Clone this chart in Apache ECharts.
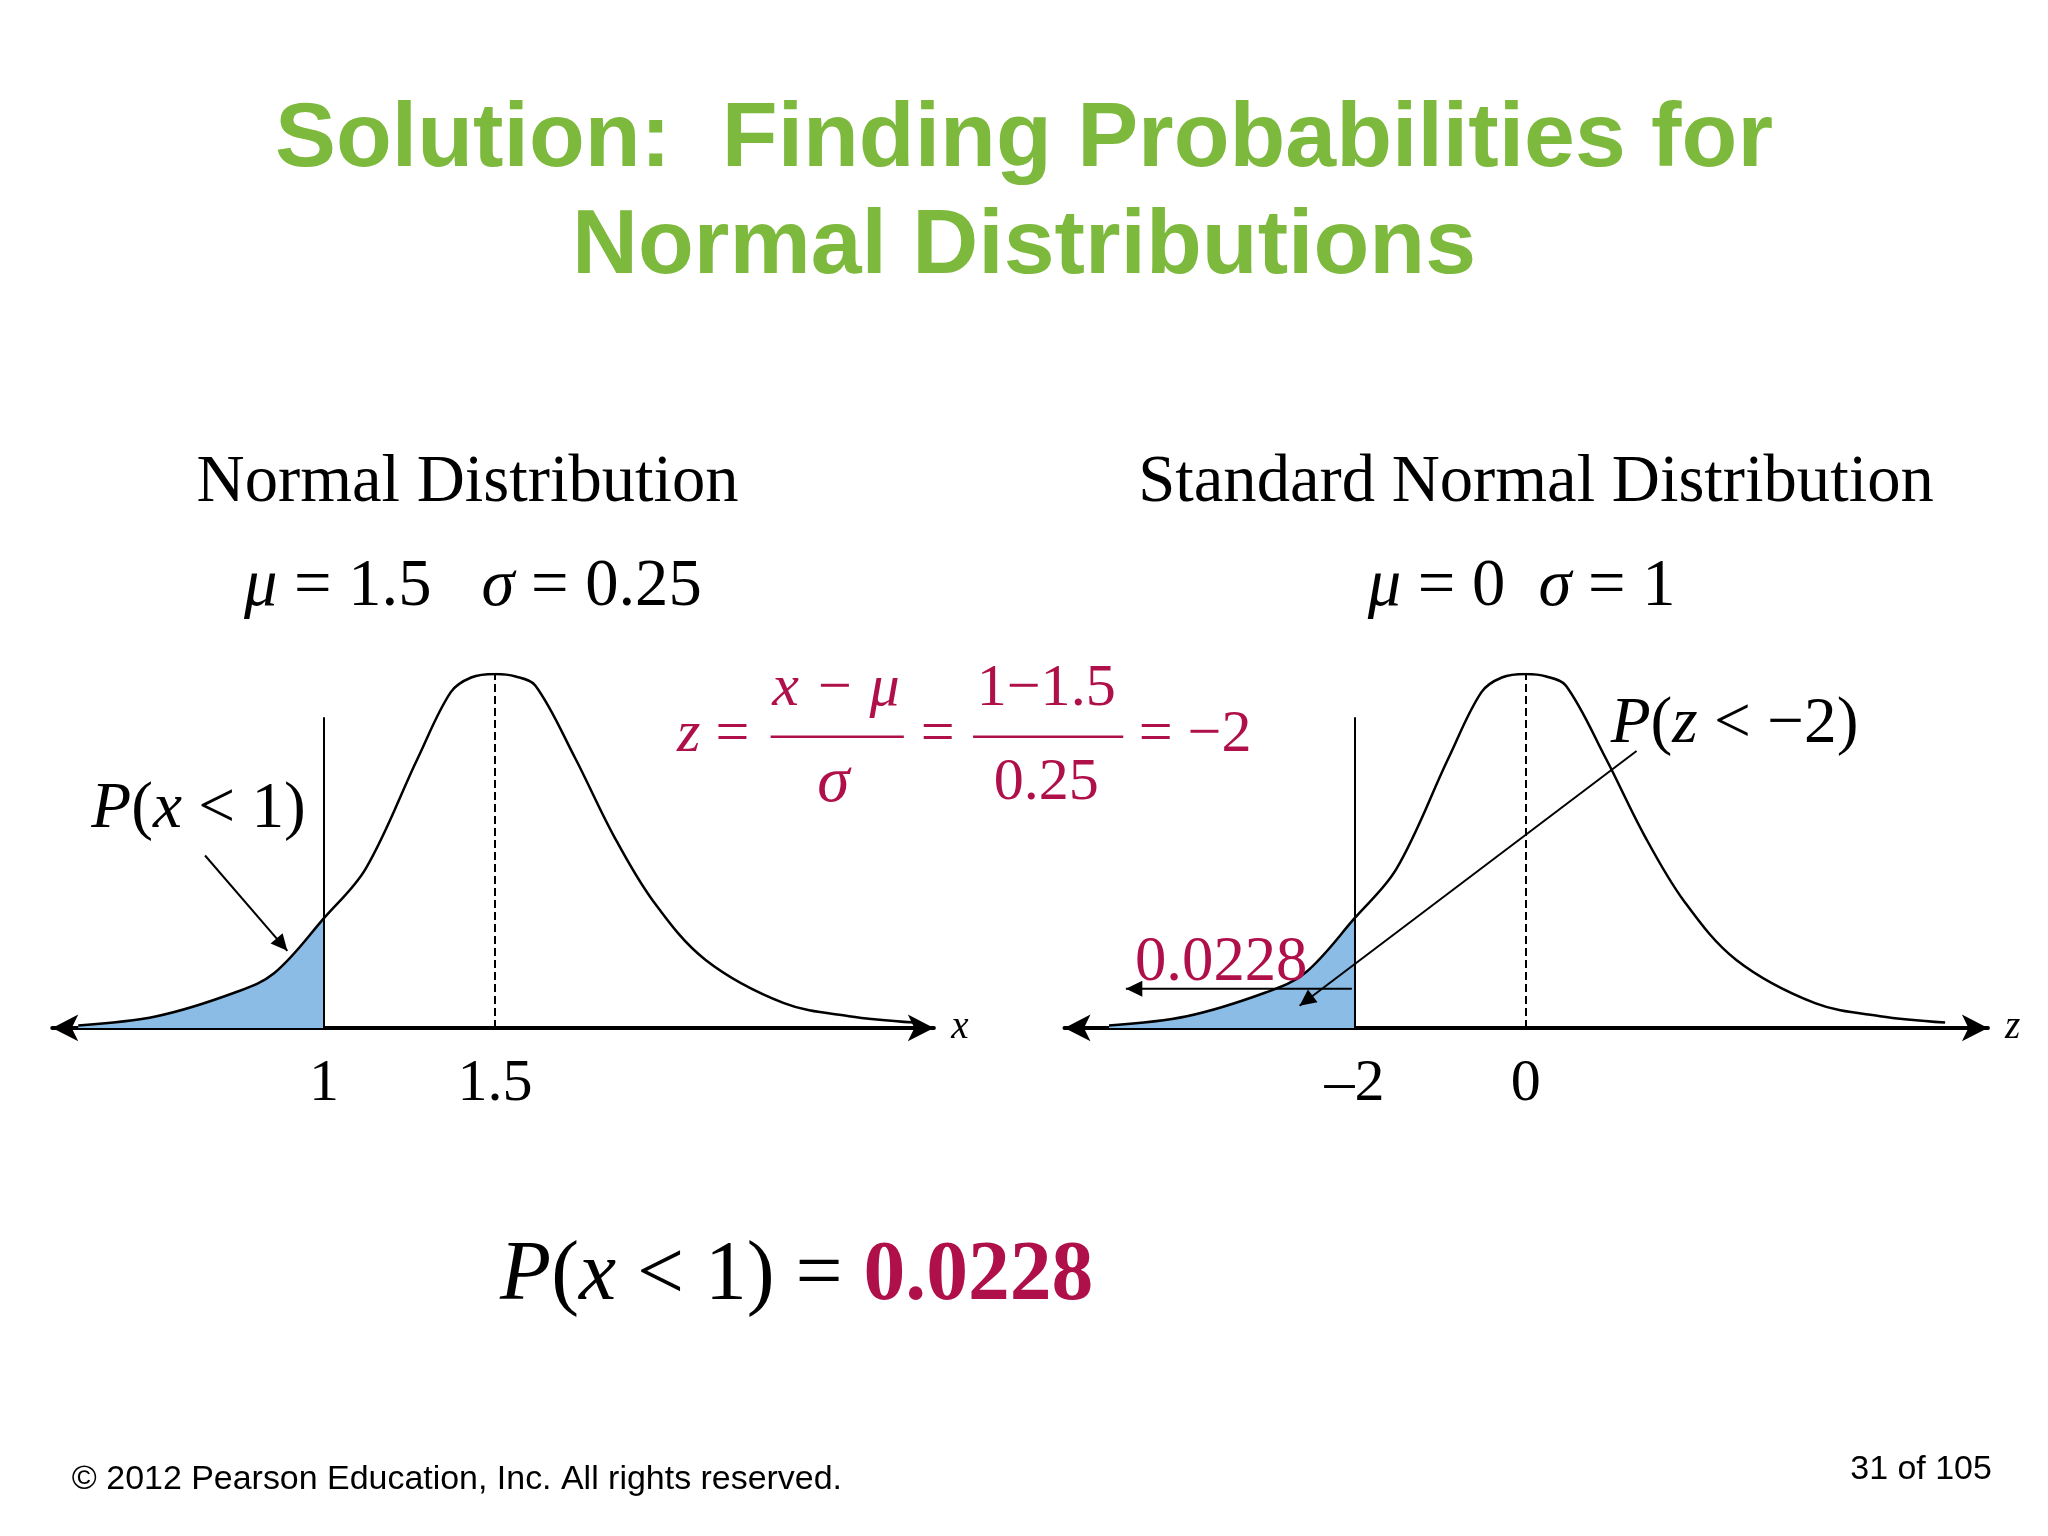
<!DOCTYPE html>
<html><head><meta charset="utf-8">
<script src="https://cdn.jsdelivr.net/npm/echarts@6/dist/echarts.min.js"></script>
<style>html,body{margin:0;background:#fff}#main{width:2048px;height:1536px}</style>
</head><body><div id="main"></div>
<script>
// curve: x values (left), z values (right), relative heights
var xVals = [0.282, 0.511, 0.740, 0.855, 1.0, 1.122, 1.275, 1.370, 1.43, 1.5, 1.56, 1.618, 1.733, 1.847, 1.962, 2.115, 2.344, 2.534, 2.725];
var zVals = [-4.87, -3.96, -3.04, -2.58, -2.0, -1.51, -0.90, -0.52, -0.28, 0, 0.24, 0.47, 0.93, 1.39, 1.85, 2.46, 3.38, 4.14, 4.90];
var heights = [0.007, 0.033, 0.100, 0.155, 0.310, 0.450, 0.764, 0.948, 0.990, 1.0, 0.993, 0.967, 0.764, 0.542, 0.358, 0.192, 0.070, 0.033, 0.015];
var xTicks = [1, 1.5];
var zTicks = [-2, 0];
var xCut = 1, zCut = -2, xMean = 1.5, zMean = 0;

var S = 2048 / 1568;
var crimson = '#b0104a';
var serif = '"Liberation Serif", "DejaVu Serif", serif';
var sans = '"Liberation Sans", Arial, sans-serif';

function pts(xs, filt) {
    var out = [];
    xs.forEach(function (v, i) { if (filt === undefined || v <= filt) out.push([v, heights[i]]); });
    return out;
}
function txt(x, y, s, size, opt) {
    opt = opt || {};
    return { type: 'text', z: 100, x: x * S, y: y * S, style: {
        text: s, fontSize: size * S, fontFamily: opt.font || serif, fill: opt.color || '#000',
        fontStyle: opt.italic ? 'italic' : 'normal', fontWeight: opt.bold ? 'bold' : 'normal',
        align: opt.align || 'center', verticalAlign: 'middle', rich: opt.rich } };
}
function arrow(x1, y1, x2, y2) {
    var a = Math.atan2(y2 - y1, x2 - x1), L = 14, w = 0.45;
    return [
        { type: 'line', z: 100, shape: { x1: x1 * S, y1: y1 * S, x2: x2 * S, y2: y2 * S }, style: { stroke: '#000', lineWidth: 2 } },
        { type: 'polygon', z: 100, shape: { points: [[x2 * S, y2 * S],
            [(x2 - L * Math.cos(a - w)) * S, (y2 - L * Math.sin(a - w)) * S],
            [(x2 - L * Math.cos(a + w)) * S, (y2 - L * Math.sin(a + w)) * S]] }, style: { fill: '#000' } }
    ];
}
function fracBar(x1, x2, y) {
    return { type: 'line', z: 100, shape: { x1: x1 * S, y1: y * S, x2: x2 * S, y2: y * S }, style: { stroke: crimson, lineWidth: 2.5 } };
}
function ital(size, color) {
    return { i: { fontStyle: 'italic', fontSize: size * S, fontFamily: serif, fill: color || '#000' } };
}

function axisX(i, min, max, ticks, fmt) {
    return { type: 'value', gridIndex: i, min: min, max: max, splitLine: { show: false },
        axisLine: { onZero: false, symbol: ['arrow', 'arrow'], symbolSize: [20, 26], lineStyle: { color: '#000', width: 4 } },
        axisTick: { show: false },
        axisLabel: { customValues: ticks, margin: 26, fontSize: 46 * S, fontFamily: serif, color: '#000', formatter: fmt } };
}
function curveSeries(i, data, cut, mean) {
    return [
        { type: 'line', xAxisIndex: i, yAxisIndex: i, data: pts(data, cut), smooth: 0.35, symbol: 'none',
          lineStyle: { width: 0 }, areaStyle: { color: '#8bbce6', opacity: 1 } },
        { type: 'line', xAxisIndex: i, yAxisIndex: i, data: pts(data), smooth: 0.35, symbol: 'none',
          lineStyle: { color: '#000', width: 2.5 },
          markLine: { silent: true, symbol: 'none', label: { show: false }, data: [
              [{ coord: [cut, 0], lineStyle: { type: 'solid', color: '#000', width: 2 } }, { coord: [cut, 0.878] }],
              [{ coord: [mean, 0], lineStyle: { type: 'dashed', color: '#000', width: 2 } }, { coord: [mean, 1] }]
          ] } }
    ];
}

var graphics = [
    txt(784, 108, 'Solution:  Finding Probabilities for', 70, { font: sans, bold: true, color: '#7cb93c' }),
    txt(784, 190, 'Normal Distributions', 70, { font: sans, bold: true, color: '#7cb93c' }),
    txt(358, 370, 'Normal Distribution', 51),
    txt(1176, 370, 'Standard Normal Distribution', 51),
    txt(362, 450, '{i|μ} = 1.5   {i|σ} = 0.25', 51, { rich: ital(51) }),
    txt(1165, 450, '{i|μ} = 0  {i|σ} = 1', 51, { rich: ital(51) }),
    txt(546, 563, '{i|z} =', 46, { color: crimson, rich: ital(46, crimson) }),
    txt(640, 528, 'x − μ', 46, { color: crimson, italic: true }),
    fracBar(590, 692, 564),
    txt(638, 600, 'σ', 50, { color: crimson, italic: true }),
    txt(718, 563, '=', 46, { color: crimson }),
    txt(801, 528, '1−1.5', 46, { color: crimson }),
    fracBar(745, 860, 564),
    txt(801, 600, '0.25', 46, { color: crimson }),
    txt(915, 563, '= −2', 46, { color: crimson }),
    txt(152, 620, '{i|P}({i|x} < 1)', 50, { rich: ital(50) }),
    txt(1328, 555, '{i|P}({i|z} < −2)', 50, { rich: ital(50) }),
    txt(935, 738, '0.0228', 48, { color: crimson }),
    txt(735, 787, 'x', 30, { italic: true }),
    txt(1541, 787, 'z', 30, { italic: true }),
    txt(610, 978, '{i|P}({i|x} < 1) = {b|0.0228}', 64, { rich: {
        i: { fontStyle: 'italic', fontSize: 64 * S, fontFamily: serif },
        b: { fontWeight: 'bold', fontSize: 64 * S, fontFamily: serif, fill: crimson } } }),
    txt(55, 1133, '© 2012 Pearson Education, Inc. All rights reserved.', 26, { font: sans, align: 'left' }),
    txt(1525, 1125, '31 of 105', 26, { font: sans, align: 'right' })
].concat(arrow(157, 655, 220, 728), arrow(1253, 575, 995, 770), arrow(1035, 757, 862, 757));

var myChart = echarts.init(document.getElementById('main'));
var option = {
    backgroundColor: '#fff',
    animation: false,
    grid: [
        { left: 40 * S, width: 675 * S, top: 516 * S, height: 271 * S },
        { left: 815 * S, width: 707 * S, top: 516 * S, height: 271 * S }
    ],
    xAxis: [
        axisX(0, 0.206, 2.782, xTicks, function (v) { return String(v); }),
        axisX(1, -5.39, 5.40, zTicks, function (v) { return v < 0 ? '–' + Math.abs(v) : String(v); })
    ],
    yAxis: [
        { type: 'value', gridIndex: 0, min: 0, max: 1, show: false },
        { type: 'value', gridIndex: 1, min: 0, max: 1, show: false }
    ],
    series: curveSeries(0, xVals, xCut, xMean).concat(curveSeries(1, zVals, zCut, zMean)),
    graphic: graphics
};
myChart.setOption(option);
</script></body></html>
